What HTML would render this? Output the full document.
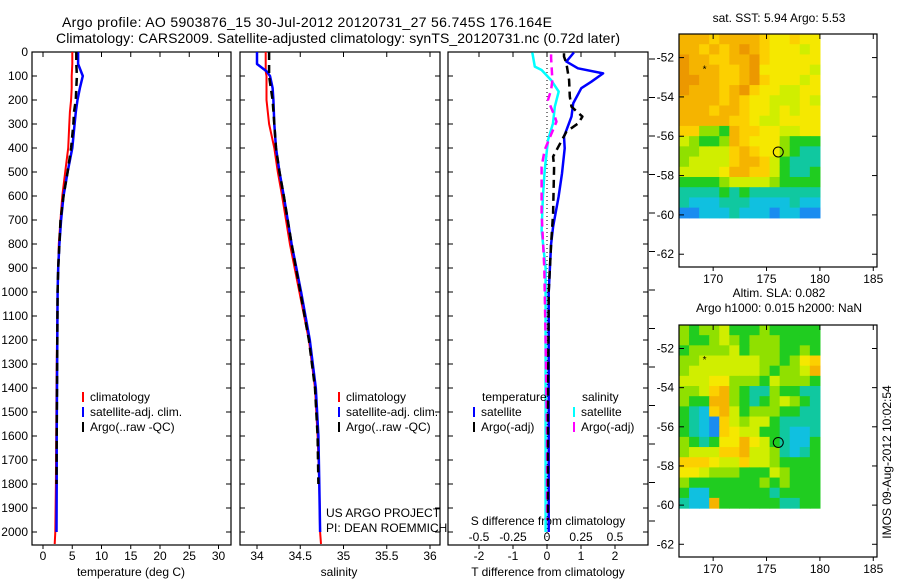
<!DOCTYPE html>
<html><head><meta charset="utf-8"><style>
html,body{margin:0;padding:0;background:#fff;}
svg{display:block;font-family:"Liberation Sans",sans-serif;}
</style></head><body>
<svg id="chart" width="900" height="580" viewBox="0 0 900 580" xmlns="http://www.w3.org/2000/svg">
<rect width="900" height="580" fill="#fff"/>
<text x="62" y="27" font-size="14" textLength="490">Argo profile: AO 5903876_15 30-Jul-2012 20120731_27 56.745S 176.164E</text>
<text x="56" y="43" font-size="14" textLength="564">Climatology: CARS2009. Satellite-adjusted climatology: synTS_20120731.nc (0.72d later)</text>
<g id="g"></g>
</svg>
<script>
// ---- data ----
const depthTicks = [0,100,200,300,400,500,600,700,800,900,1000,1100,1200,1300,1400,1500,1600,1700,1800,1900,2000];
const tempTicks = [0,5,10,15,20,25,30];
const salTicks = [34,34.5,35,35.5,36];
const salTickLabels = ['34','34.5','35','35.5','36'];
const tdiffTicks = [-2,-1,0,1,2];
const sdiffTicks = [-0.5,-0.25,0,0.25,0.5];
const sdiffTickLabels = ['-0.5','-0.25','0','0.25','0.5'];

const tDepth = [0,50,100,150,200,250,300,400,500,600,700,800,900,1000,1200,1400,1600,1800,2000,2050];
const tClim = [5.0,5.0,4.9,4.9,4.8,4.6,4.5,4.3,3.8,3.3,3.0,2.7,2.6,2.5,2.4,2.3,2.25,2.2,2.1,2.0];
const tSat = [6.0,6.0,6.8,6.3,5.9,5.6,5.4,5.0,4.2,3.5,3.1,2.8,2.6,2.5,2.45,2.4,2.35,2.35,2.3,2.3];
const tArgo = [5.7,5.7,5.8,5.7,5.6,5.3,5.2,4.8,4.2,3.5,3.0,2.8,2.6,2.5,2.45,2.4,2.35,2.3,2.3,2.3];

const sDepth = [0,50,80,100,150,200,300,400,500,600,800,1000,1200,1400,1600,1800,2000,2050];
const sClim = [34.10,34.10,34.10,34.11,34.11,34.11,34.14,34.20,34.24,34.29,34.38,34.49,34.60,34.67,34.70,34.72,34.73,34.74];
const sSat = [34.0,34.0,34.11,34.15,34.18,34.19,34.20,34.22,34.26,34.31,34.40,34.51,34.61,34.68,34.71,34.72,34.73,34.73];
const sArgo = [34.14,34.14,34.14,34.14,34.16,34.18,34.20,34.22,34.26,34.31,34.40,34.50,34.60,34.67,34.70,34.71,34.72,34.72];

const dTSatDepth = [2,40,68,89,124,151,214,269,353,401,506,603,728,800,1000,1500,2000];
const dTSat = [0.79,0.57,0.91,1.65,1.30,1.01,0.77,0.72,0.50,0.52,0.44,0.34,0.18,0.12,0.05,0.05,0.05];
const dTArgoDepth = [5,19,47,117,186,228,269,297,332,436,478,672,800,1000,1500,1950];
const dTArgo = [0.50,0.50,0.57,0.65,0.67,0.72,1.04,0.92,0.57,0.18,0.21,0.18,0.12,0.05,0.03,0.03];
const dSSatDepth = [2,61,75,117,165,228,297,367,492,603,742,900,1200,1600,2000];
const dSSat = [-0.108,-0.09,-0.04,0.03,0.086,0.057,0.044,0.007,-0.017,-0.03,-0.04,-0.01,-0.01,-0.01,-0.01];
const dSArgoDepth = [10,26,117,158,200,269,290,408,478,672,900,1200,1600,1950];
const dSArgo = [0.03,0.03,0.04,0.03,0.007,0.057,0.07,-0.017,-0.04,-0.04,-0.02,-0.01,0.0,0.0];

const sstGrid = [
"88878888766766","88787898766656","98877889766666","98887789666665","99887789766656",
"98887897665566","88887876655565","88878876656566","88888776556666","77443877665566",
"54334876664333","44555787664322","45555788753222","55556887753223","33334555543333",
"22223232222222","21112221111211","00111211101100"];
const slaGrid = [
"43445333433333","43345434443333","34444534443343","44555555443467","45555555434458",
"55566444354443","44578432243322","43388432345432","32178534443322","32107545532222",
"32107655332112","43236686532113","45557785542123","77765575543333","66544433354333",
"43333333434333","31133333323333","21183333332233"];
const palette = ["#1a8cf0","#10c0e0","#10c8a0","#20cc20","#90e000","#d0ee00","#f5e800","#fcd000","#f5b400","#ec9800"];
const mapLatTicks = [-52,-54,-56,-58,-60,-62];
const mapLonTicks = [170,175,180,185];
const argoLon = 176.1, argoLat = -56.8;
const starLon = 169.2, starLat = -52.6;

// ---- drawing ----
const NS='http://www.w3.org/2000/svg';
const G=document.getElementById('g');
function mk(tag,attrs,parent){const e=document.createElementNS(NS,tag);for(const k in attrs)e.setAttribute(k,attrs[k]);(parent||G).appendChild(e);return e;}
function txt(x,y,s,size,anchor,parent){const t=mk('text',{x:x,y:y,'font-size':size||12,'text-anchor':anchor||'start'},parent);t.textContent=s;return t;}

const Y0=52, PXM=0.24, YB=545;
const yD=d=>Y0+d*PXM;
const panels=[
 {l:32,r:231,name:'temperature-panel',x:v=>43+v*5.85},
 {l:240,r:440,name:'salinity-panel',x:v=>257+(v-34)*86.5},
 {l:448,r:648,name:'difference-panel',x:v=>547+v*34},
];
const xS=v=>547+v*136;

panels.forEach((p,i)=>{
 const g=mk('g',{});
 
 
 mk('rect',{x:p.l,y:Y0,width:p.r-p.l,height:YB-Y0,fill:'none',stroke:'#000','stroke-width':1.2},g);
 depthTicks.forEach(d=>{
  mk('line',{x1:p.l,x2:p.l+5,y1:yD(d),y2:yD(d),stroke:'#000'},g);
  mk('line',{x1:p.r-5,x2:p.r,y1:yD(d),y2:yD(d),stroke:'#000'},g);
 });
});
depthTicks.forEach(d=>{
 const t=txt(28,yD(d)+4,String(d),12,'end');
 
 
});
function xticks(p,ticks,labels,fx){
 ticks.forEach((v,i)=>{
  const x=fx(v);
  mk('line',{x1:x,x2:x,y1:Y0,y2:Y0+5,stroke:'#000'});
  mk('line',{x1:x,x2:x,y1:YB,y2:YB+4,stroke:'#000'});
  const t=txt(x,560,labels[i],12,'middle');
  
  
 });
}
xticks(panels[0],tempTicks,tempTicks.map(String),panels[0].x);
xticks(panels[1],salTicks,salTickLabels,panels[1].x);
xticks(panels[2],tdiffTicks,tdiffTicks.map(String),panels[2].x);
sdiffTicks.forEach((v,i)=>{
 const t=txt(xS(v),541,sdiffTickLabels[i],12,'middle');
 
 
});
for(let y=59;y<545;y+=38.5){mk('line',{x1:649,x2:655,y1:y,y2:y,stroke:'#000'});}

function axisLabel(x,y,s,name){const t=txt(x,y,s,12,'middle');}
axisLabel(131,576,'temperature (deg C)','x-axis-title-temperature');
axisLabel(339,576,'salinity','x-axis-title-salinity');
axisLabel(548,576,'T difference from climatology','x-axis-title-t-diff');
axisLabel(548,525,'S difference from climatology','axis-title-s-diff');
let t1=txt(326,517,'US ARGO PROJECT',12);
let t2=txt(326,532,'PI: DEAN ROEMMICH',12);

function series(depths,vals,fx,color,w,dash,name){
 const pts=depths.map((d,i)=>fx(vals[i]).toFixed(1)+','+yD(d).toFixed(1)).join(' ');
 const a={points:pts,fill:'none',stroke:color,'stroke-width':w,'stroke-linejoin':'round'};
 if(dash)a['stroke-dasharray']=dash;
 const e=mk('polyline',a);
 
 
}
mk('line',{x1:547,x2:547,y1:Y0,y2:YB,stroke:'#000','stroke-dasharray':'1,3'});
series(tDepth,tClim,panels[0].x,'#ff0000',2,null,'temp-climatology-line');
series(tDepth.slice(0,19),tSat.slice(0,19),panels[0].x,'#0000ff',2.5,null,'temp-satellite-line');
series(tDepth.slice(0,18),tArgo.slice(0,18),panels[0].x,'#000',2.5,'8,5','temp-argo-line');
series(sDepth,sClim,panels[1].x,'#ff0000',2,null,'sal-climatology-line');
series(sDepth.slice(0,17),sSat.slice(0,17),panels[1].x,'#0000ff',2.5,null,'sal-satellite-line');
series(sDepth.slice(0,16),sArgo.slice(0,16),panels[1].x,'#000',2.5,'8,5','sal-argo-line');
series(dSSatDepth,dSSat,xS,'#00ffff',2.5,null,'s-diff-satellite-line');
series(dSArgoDepth,dSArgo,xS,'#ff00ff',2.5,'8,5','s-diff-argo-line');
series(dTSatDepth,dTSat,panels[2].x,'#0000ff',2.5,null,'t-diff-satellite-line');
series(dTArgoDepth,dTArgo,panels[2].x,'#000',2.5,'8,5','t-diff-argo-line');

function legendEntry(x,y,color,label,name){
 const g=mk('g',{});
 
 
 if(color)mk('rect',{x:x,y:y-9,width:2,height:10,fill:color},g);
 txt(x+8,y,label,12,'start',g);
}
legendEntry(82,401,'#ff0000','climatology','legend-climatology');
legendEntry(82,416,'#0000ff','satellite-adj. clim.','legend-satellite');
legendEntry(82,431,'#000','Argo(..raw -QC)','legend-argo');
legendEntry(338,401,'#ff0000','climatology','legend-climatology-2');
legendEntry(338,416,'#0000ff','satellite-adj. clim.','legend-satellite-2');
legendEntry(338,431,'#000','Argo(..raw -QC)','legend-argo-2');
legendEntry(474,401,null,'temperature','legend-temperature-header');
legendEntry(473,416,'#0000ff','satellite','legend-t-satellite');
legendEntry(473,431,'#000','Argo(-adj)','legend-t-argo');
legendEntry(574,401,null,'salinity','legend-salinity-header');
legendEntry(573,416,'#00ffff','satellite','legend-s-satellite');
legendEntry(573,431,'#ff00ff','Argo(-adj)','legend-s-argo');

// ---- maps ----
function drawMap(top,bottom,grid,name,titles){
 const L=679,R=877, lon0=166.8, lon1=185.35, lat0=-50.8;
 const pxLon=(R-L)/(lon1-lon0);
 const pxLat=(bottom-top)/( (-50.8)-(-62.65) );
 const fx=lon=>L+(lon-lon0)*pxLon;
 const fy=lat=>top+(lat0-lat)*pxLat;
 const g=mk('g',{});
 
 
 const dataR=fx(180), dataB=fy(-60.15);
 const cw=(dataR-L)/grid[0].length, ch=(dataB-top)/grid.length;
 grid.forEach((row,r)=>{
  for(let c=0;c<row.length;c++){
   mk('rect',{x:(L+c*cw).toFixed(2),y:(top+r*ch).toFixed(2),width:(cw+0.6).toFixed(2),height:(ch+0.6).toFixed(2),fill:palette[+row[c]]},g);
  }
 });
 mk('rect',{x:L,y:top,width:R-L,height:bottom-top,fill:'none',stroke:'#000','stroke-width':1.2},g);
 mapLatTicks.forEach(lat=>{
  const y=fy(lat);
  mk('line',{x1:L,x2:L+5,y1:y,y2:y,stroke:'#000'},g);
  mk('line',{x1:R-5,x2:R,y1:y,y2:y,stroke:'#000'},g);
  txt(674,y+4,String(lat),12,'end',g);
 });
 mapLonTicks.forEach(lon=>{
  const x=fx(lon);
  mk('line',{x1:x,x2:x,y1:top,y2:top+5,stroke:'#000'},g);
  mk('line',{x1:x,x2:x,y1:bottom,y2:bottom+4,stroke:'#000'},g);
  txt(x,bottom+16,String(lon),12,'middle',g);
 });
 mk('circle',{cx:fx(argoLon),cy:fy(argoLat),r:5,fill:'none',stroke:'#000','stroke-width':1},g);
 txt(fx(starLon),fy(starLat)+3,'*',10,'middle',g);
 titles.forEach((tt,i)=>{txt(779,tt[1],tt[0],12,'middle',g);});
}
drawMap(34,267,sstGrid,'sst-map',[['sat. SST: 5.94  Argo: 5.53',22]]);
drawMap(325,557,slaGrid,'sla-map',[['Altim. SLA: 0.082',297],['Argo h1000: 0.015 h2000: NaN',312]]);
const im=txt(0,0,'IMOS 09-Aug-2012 10:02:54',12,'middle');
im.setAttribute('transform','translate(891,462) rotate(-90)');


</script>
</body></html>
